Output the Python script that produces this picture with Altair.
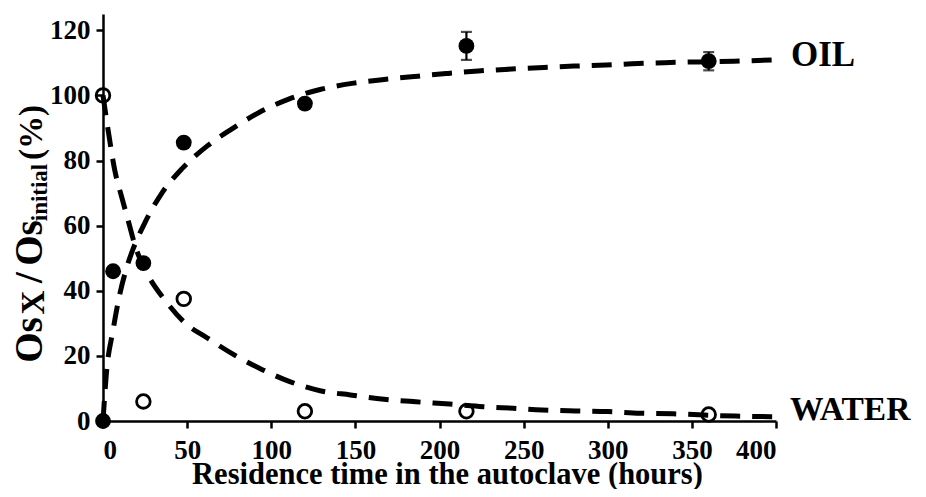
import altair as alt
import pandas as pd

# ---- measured data ----
oil_t = [0, 6, 24, 48, 120, 216, 360]
oil_v = [0, 46, 48.5, 85.5, 97.5, 115.2, 110.5]
err_t = [216, 360]
err_lo = [110.9, 107.7]
err_hi = [119.5, 113.3]

water_t = [0, 24, 48, 120, 216, 360]
water_v = [100, 6, 37.5, 3, 3, 2]

# fitted curves
oil_fit_t = [0, 2, 6, 10, 14, 18, 25, 35, 47, 62, 76, 93, 110, 129, 148, 167,
             185, 204, 223, 243, 262, 280, 299, 318, 337, 375, 400]
oil_fit_v = [0, 14.5, 28, 39, 47, 53, 61, 70, 77.5, 84.5, 89.5, 94.8, 98.8,
             101.8, 103.7, 104.9, 105.8, 106.7, 107.5, 108.1, 108.6, 109,
             109.3, 109.8, 110.1, 110.5, 110.9]
water_fit_t = [0, 3, 7, 11, 15, 19, 23, 27, 37, 49, 62, 79, 95, 111, 129, 147,
               167, 186, 206, 226, 244, 261, 281, 300, 319, 339, 376, 400]
water_fit_v = [100, 89.5, 77, 69, 61.5, 54, 48.5, 44.5, 37, 30, 25.5, 20, 15.7,
               12.1, 9.3, 8.0, 6.7, 5.9, 5.2, 4.4, 3.9, 3.4, 3.1, 2.9, 2.4,
               2.2, 1.5, 1.3]

series_names = ["OIL", "WATER"]
x_ticks = [0, 50, 100, 150, 200, 250, 300, 350, 400]
y_ticks = [0, 20, 40, 60, 80, 100, 120]
x_title = "Residence time in the autoclave (hours)"

FONT = "Liberation Serif"

# ---- tables ----
fit_df = pd.concat([
    pd.DataFrame({"series": "OIL", "t": oil_fit_t, "v": oil_fit_v}),
    pd.DataFrame({"series": "WATER", "t": water_fit_t, "v": water_fit_v}),
])
oil_df = pd.DataFrame({"t": oil_t, "v": oil_v})
water_df = pd.DataFrame({"t": water_t, "v": water_v})
err_df = pd.DataFrame({"t": err_t, "v": err_lo, "v2": err_hi})
cap_df = pd.DataFrame({"t": err_t + err_t, "v": err_lo + err_hi})
oil_lab = pd.DataFrame({"name": [series_names[0]], "t": [oil_fit_t[-1]],
                        "v": [oil_fit_v[-1]]})
water_lab = pd.DataFrame({"name": [series_names[1]], "t": [water_fit_t[-1]],
                          "v": [water_fit_v[-1]]})

X = alt.X("t:Q", scale=alt.Scale(domain=[0, 400], nice=False, zero=False),
          axis=alt.Axis(values=x_ticks, title=x_title, labelPadding=9,
                        titleFontSize=30.5, titleBaseline="alphabetic",
                        titleY=62, titleX=344))
Y = alt.Y("v:Q", scale=alt.Scale(domain=[0, 125], nice=False),
          axis=alt.Axis(values=y_ticks, title=None, labelPadding=6))

lines = alt.Chart(fit_df).mark_line(
    color="black", strokeWidth=5, strokeDash=[20, 12], interpolate="monotone",
    clip=False
).encode(x=X, y=Y, detail="series:N")

err_rule = alt.Chart(err_df).mark_rule(color="black", strokeWidth=2.2).encode(
    x=X, y=Y, y2="v2:Q")
err_caps = alt.Chart(cap_df).mark_tick(
    color="black", orient="horizontal", size=11, thickness=2.2).encode(x=X, y=Y)

oil_pts = alt.Chart(oil_df).mark_circle(
    color="black", size=250, opacity=1, clip=False).encode(x=X, y=Y)
water_pts = alt.Chart(water_df).mark_point(
    shape="circle", filled=False, color="black", size=185, strokeWidth=2.8,
    opacity=1, clip=False).encode(x=X, y=Y)

oil_text = alt.Chart(oil_lab).mark_text(
    font=FONT, fontWeight="bold", fontSize=35, color="black", align="left",
    baseline="alphabetic", dx=15, dy=6).encode(x=X, y=Y, text="name:N")
water_text = alt.Chart(water_lab).mark_text(
    font=FONT, fontWeight="bold", fontSize=33.5, color="black", align="left",
    baseline="alphabetic", dx=14, dy=3).encode(x=X, y=Y, text="name:N")

# y-axis title built from pieces (with subscripts): text, size, x, y (px)
yt_pieces = [
    ("Os", 39, -61, 326),
    ("X", 33, -59, 288.5),
    ("/", 39, -61, 263.5),
    ("Os", 39, -61, 229),
    ("initial", 23, -56, 178.5),
    ("(%)", 33, -61, 118.5),
]
ytitle_layers = []
for txt, fs, px, py in yt_pieces:
    ytitle_layers.append(
        alt.Chart(pd.DataFrame({"k": [0]})).mark_text(
            text=txt, font=FONT, fontWeight="bold", fontSize=fs, color="black",
            angle=270, align="center", baseline="alphabetic"
        ).encode(x=alt.value(px), y=alt.value(py))
    )

chart = alt.layer(lines, err_rule, err_caps, oil_pts, water_pts, oil_text,
                  water_text, *ytitle_layers).properties(
    width=673, height=407,
    autosize=alt.AutoSizeParams(type="none"),
    padding={"left": 95, "top": 6, "right": 142, "bottom": 68},
).configure_view(stroke=None).configure_axis(
    domainColor="black", domainWidth=2.5, tickColor="black", tickWidth=2.5,
    tickSize=7, grid=False, labelFont=FONT, labelFontWeight="bold",
    labelFontSize=27, labelColor="black", titleFont=FONT,
    titleFontWeight="bold", titleColor="black"
)

chart.save("out.html", embed_options={"renderer": "svg", "actions": False})
